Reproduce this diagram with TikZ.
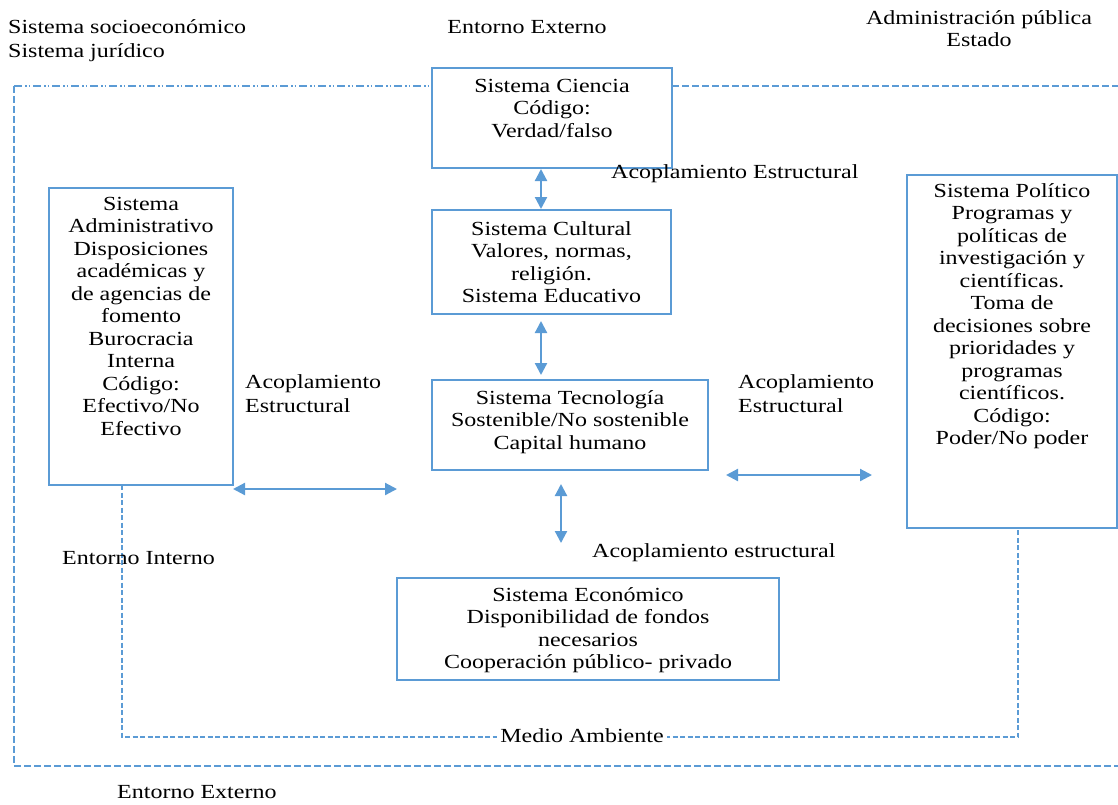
\documentclass[tikz,border=0pt]{standalone}
\usepackage{fontspec}
\setmainfont[FakeStretch=1.2]{Liberation Serif}
\usetikzlibrary{arrows.meta,calc}
\definecolor{lb}{HTML}{5B9BD5}
\begin{document}
\begin{tikzpicture}[x=1pt,y=-1pt,
 box/.style={draw=lb, line width=2pt, fill=white, inner sep=0pt},
 txt/.style={font=\fontsize{20}{22.5}\selectfont, align=center, inner sep=0pt, text=black},
 lbl/.style={font=\fontsize{20}{22.5}\selectfont, inner sep=0pt, text=black},
 arr/.style={draw=lb, line width=2.2pt, {Triangle[length=12pt,width=12pt]}-{Triangle[length=12pt,width=12pt]}},
 outerdash/.style={draw=lb, line width=2pt, dash pattern=on 7pt off 3pt},
 outerdot/.style={draw=lb, line width=2pt, dash pattern=on 8pt off 3pt on 1.5pt off 2pt on 1.5pt off 3pt},
 innerdash/.style={draw=lb, line width=1.5pt, dash pattern=on 5pt off 2.5pt}]
\useasboundingbox (0,0) rectangle (1118,804);

% outer environment lines
\coordinate (o1) at (14,86);
\coordinate (o2) at (432,86);
\coordinate (o3) at (672,86);
\coordinate (o4) at (1118,86);
\coordinate (o5) at (14,766);
\coordinate (o6) at (1118,766);
\draw[outerdot] (o1) -- (o2);
\draw[outerdash] (o3) -- (o4);
\draw[outerdash] (o1) -- (o5) -- (o6);

% boxes
\node[box, minimum width=240pt, minimum height=100pt] (cien) at (552,118) {};
\node[box, minimum width=239pt, minimum height=104pt] (cult) at (551.5,262) {};
\node[box, minimum width=276pt, minimum height=90pt] (tec) at (570,425) {};
\node[box, minimum width=382pt, minimum height=102pt] (eco) at (588,629) {};
\node[box, minimum width=184pt, minimum height=297pt] (adm) at (141,336.5) {};
\node[box, minimum width=210pt, minimum height=353pt] (pol) at (1012,351.5) {};

% inner environment line
\coordinate (i1) at (122,485);
\coordinate (i2) at (122,737);
\coordinate (i3) at (1018,737);
\coordinate (i4) at (1018,528);
\draw[innerdash] (i1) -- (i2) -- (i3) -- (i4);
\node[lbl, fill=white, inner xsep=3pt] (medio) at (582,736) {Medio Ambiente};

% box texts
\node[txt, anchor=north] (cient) at (552,79) {Sistema Ciencia\\Código:\\Verdad/falso};
\node[txt, anchor=north] (cultt) at (551.5,221) {Sistema Cultural\\Valores, normas,\\religión.\\Sistema Educativo};
\node[txt, anchor=north] (tect) at (570,390) {Sistema Tecnología\\Sostenible/No sostenible\\Capital humano};
\node[txt, anchor=north] (ecot) at (588,587) {Sistema Económico\\Disponibilidad de fondos\\necesarios\\Cooperación público- privado};
\node[txt, anchor=north] (admt) at (141,197) {Sistema\\Administrativo\\Disposiciones\\académicas y\\de agencias de\\fomento\\Burocracia\\Interna\\Código:\\Efectivo/No\\Efectivo};
\node[txt, anchor=north] (polt) at (1012,183) {Sistema Político\\Programas y\\políticas de\\investigación y\\científicas.\\Toma de\\decisiones sobre\\prioridades y\\programas\\científicos.\\Código:\\Poder/No poder};

% arrows
\coordinate (ax1) at (541,0);
\draw[arr] (cien.south -| ax1) -- (cult.north -| ax1);
\coordinate (a2s) at (541,321);
\coordinate (a2e) at (541,375);
\draw[arr] (a2s) -- (a2e);
\coordinate (a3s) at (561,484);
\coordinate (a3e) at (561,543);
\draw[arr] (a3s) -- (a3e);
\coordinate (a4s) at (233,489);
\coordinate (a4e) at (397,489);
\draw[arr] (a4s) -- (a4e);
\coordinate (a5s) at (726,475);
\coordinate (a5e) at (872,475);
\draw[arr] (a5s) -- (a5e);

% labels
\node[lbl, align=left, anchor=north west] (socio) at (8,19) {Sistema socioeconómico\\[2pt]Sistema jurídico};
\node[lbl] (extop) at (527,27) {Entorno Externo};
\node[lbl, align=center, anchor=north] (admpub) at (979,10) {Administración pública\\Estado};
\node[lbl, anchor=west] (acop1) at (611,174) {Acoplamiento Estructural};
\node[lbl, align=left, anchor=north west] (acop2) at (245,374) {Acoplamiento\\[1.5pt]Estructural};
\node[lbl, align=left, anchor=north west] (acop3) at (738,374) {Acoplamiento\\[1.5pt]Estructural};
\node[lbl, anchor=west] (acop4) at (592,553) {Acoplamiento estructural};
\node[lbl, anchor=west] (entint) at (62,558) {Entorno Interno};
\node[lbl, anchor=west] (extbot) at (117,792) {Entorno Externo};
\end{tikzpicture}
\end{document}
